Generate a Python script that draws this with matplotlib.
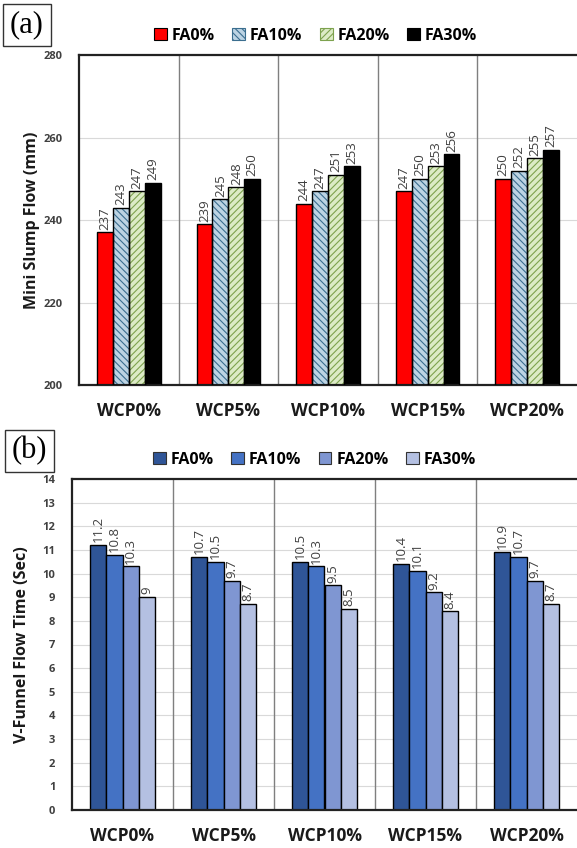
import matplotlib.pyplot as plt
from matplotlib.patches import Patch
import numpy as np

plt.rcParams['font.family'] = ['Open Sans', 'DejaVu Sans']
plt.rcParams['hatch.linewidth'] = 0.8

categories = ['WCP0%', 'WCP5%', 'WCP10%', 'WCP15%', 'WCP20%']
series = ['FA0%', 'FA10%', 'FA20%', 'FA30%']

# (a) mini slump flow (mm)
slump_fa0 = [237, 239, 244, 247, 250]
slump_fa10 = [243, 245, 247, 250, 252]
slump_fa20 = [247, 248, 251, 253, 255]
slump_fa30 = [249, 250, 253, 256, 257]

# (b) V-funnel flow time (sec)
vfunnel_fa0 = [11.2, 10.7, 10.5, 10.4, 10.9]
vfunnel_fa10 = [10.8, 10.5, 10.3, 10.1, 10.7]
vfunnel_fa20 = [10.3, 9.7, 9.5, 9.2, 9.7]
vfunnel_fa30 = [9, 8.7, 8.5, 8.4, 8.7]

W, H = 577, 848
fig = plt.figure(figsize=(W / 100, H / 100), dpi=100)

x = np.arange(len(categories))
width = 0.16
label_color = '#404040'


def style_axes(ax, ylim, yticks, ylabel, label_x):
    ax.set_xlim(-0.5, 4.5)
    ax.set_ylim(*ylim)
    ax.set_yticks(yticks)
    ax.set_xticks(x)
    ax.set_xticklabels(categories, fontsize=12.5, fontweight='bold', color='#1a1a1a')
    ax.tick_params(axis='x', length=0, pad=12)
    ax.tick_params(axis='y', length=0, pad=12, labelsize=8, labelcolor='#404040')
    for t in ax.get_yticklabels():
        t.set_fontweight('bold')
    ax.grid(axis='y', color='#d9d9d9', linewidth=0.8)
    ax.set_axisbelow(True)
    for i in range(len(categories) - 1):
        ax.axvline(i + 0.5, color='#7f7f7f', linewidth=1.0, zorder=1)
    for s in ['left', 'top', 'bottom']:
        ax.spines[s].set_linewidth(1.6)
        ax.spines[s].set_color('#222222')
    ax.spines['right'].set_visible(False)
    ax.set_ylabel(ylabel, fontsize=11.5, fontweight='bold', color='#1a1a1a')
    ax.yaxis.set_label_coords(label_x, 0.5)


# ---- panel (a)
ax1 = fig.add_axes([79 / W, 1 - 385 / H, (W - 79) / W, 330 / H])
a_data = [slump_fa0, slump_fa10, slump_fa20, slump_fa30]
a_face = ['#ff0000', '#bcd3e3', '#dcebc6', '#000000']
a_hatch = [None, '\\\\\\\\\\', '/////', None]
a_hcol = [None, '#3b6e8f', '#7da24e', None]
for i, vals in enumerate(a_data):
    pos = x + (i - 1.5) * width
    if a_hatch[i]:
        ax1.bar(pos, np.array(vals) - 200, width, bottom=200, color=a_face[i],
                hatch=a_hatch[i], edgecolor=a_hcol[i], linewidth=0, zorder=2)
    else:
        ax1.bar(pos, np.array(vals) - 200, width, bottom=200, color=a_face[i],
                linewidth=0, zorder=2)
    ax1.bar(pos, np.array(vals) - 200, width, bottom=200, fill=False,
            edgecolor='black', linewidth=1.0, zorder=3)
    for p, v in zip(pos, vals):
        ax1.text(p, v + 0.6, str(v), rotation=90, ha='center', va='bottom',
                 fontsize=9.5, color=label_color)
style_axes(ax1, (200, 280), [200, 220, 240, 260, 280], 'Mini Slump Flow (mm)', -0.078)

a_handles = []
for i in range(4):
    a_handles.append(Patch(facecolor=a_face[i], edgecolor=a_hcol[i] or 'black',
                           hatch=a_hatch[i], linewidth=0.8))
ax1.legend(a_handles, series, ncol=4, loc='lower center', bbox_to_anchor=(0.475, 1.0),
           frameon=False, prop={'weight': 'bold', 'size': 11.5}, handlelength=0.8,
           handleheight=0.8, handletextpad=0.3, columnspacing=1.1, borderaxespad=0.3)

fig.text(10 / W, 1 - 25 / H, '(a)', fontsize=22, family=['Liberation Serif', 'DejaVu Serif'],
         va='center', ha='left',
         bbox=dict(boxstyle='square,pad=0.22', facecolor='white', edgecolor='#333333', linewidth=1))

# ---- panel (b)
ax2 = fig.add_axes([72 / W, 1 - 810 / H, (W - 72) / W, 331 / H])
b_data = [vfunnel_fa0, vfunnel_fa10, vfunnel_fa20, vfunnel_fa30]
b_face = ['#2f5597', '#4472c4', '#7f96d2', '#b4c0e2']
for i, vals in enumerate(b_data):
    pos = x + (i - 1.5) * width
    ax2.bar(pos, vals, width, color=b_face[i], edgecolor='black', linewidth=1.0, zorder=2)
    for p, v in zip(pos, vals):
        ax2.text(p, v + 0.12, f'{v:g}', rotation=90, ha='center', va='bottom',
                 fontsize=9.5, color=label_color)
style_axes(ax2, (0, 14), list(range(0, 15)), 'V-Funnel Flow Time (Sec)', -0.083)

b_handles = [Patch(facecolor=c, edgecolor='#333333', linewidth=0.8) for c in b_face]
ax2.legend(b_handles, series, ncol=4, loc='lower center', bbox_to_anchor=(0.48, 1.0),
           frameon=False, prop={'weight': 'bold', 'size': 11.5}, handlelength=0.8,
           handleheight=0.8, handletextpad=0.3, columnspacing=1.1, borderaxespad=0.3)

fig.text(12 / W, 1 - 451 / H, '(b)', fontsize=22, family=['Liberation Serif', 'DejaVu Serif'],
         va='center', ha='left',
         bbox=dict(boxstyle='square,pad=0.22', facecolor='white', edgecolor='#333333', linewidth=1))

fig.savefig('out.png', dpi=100)
